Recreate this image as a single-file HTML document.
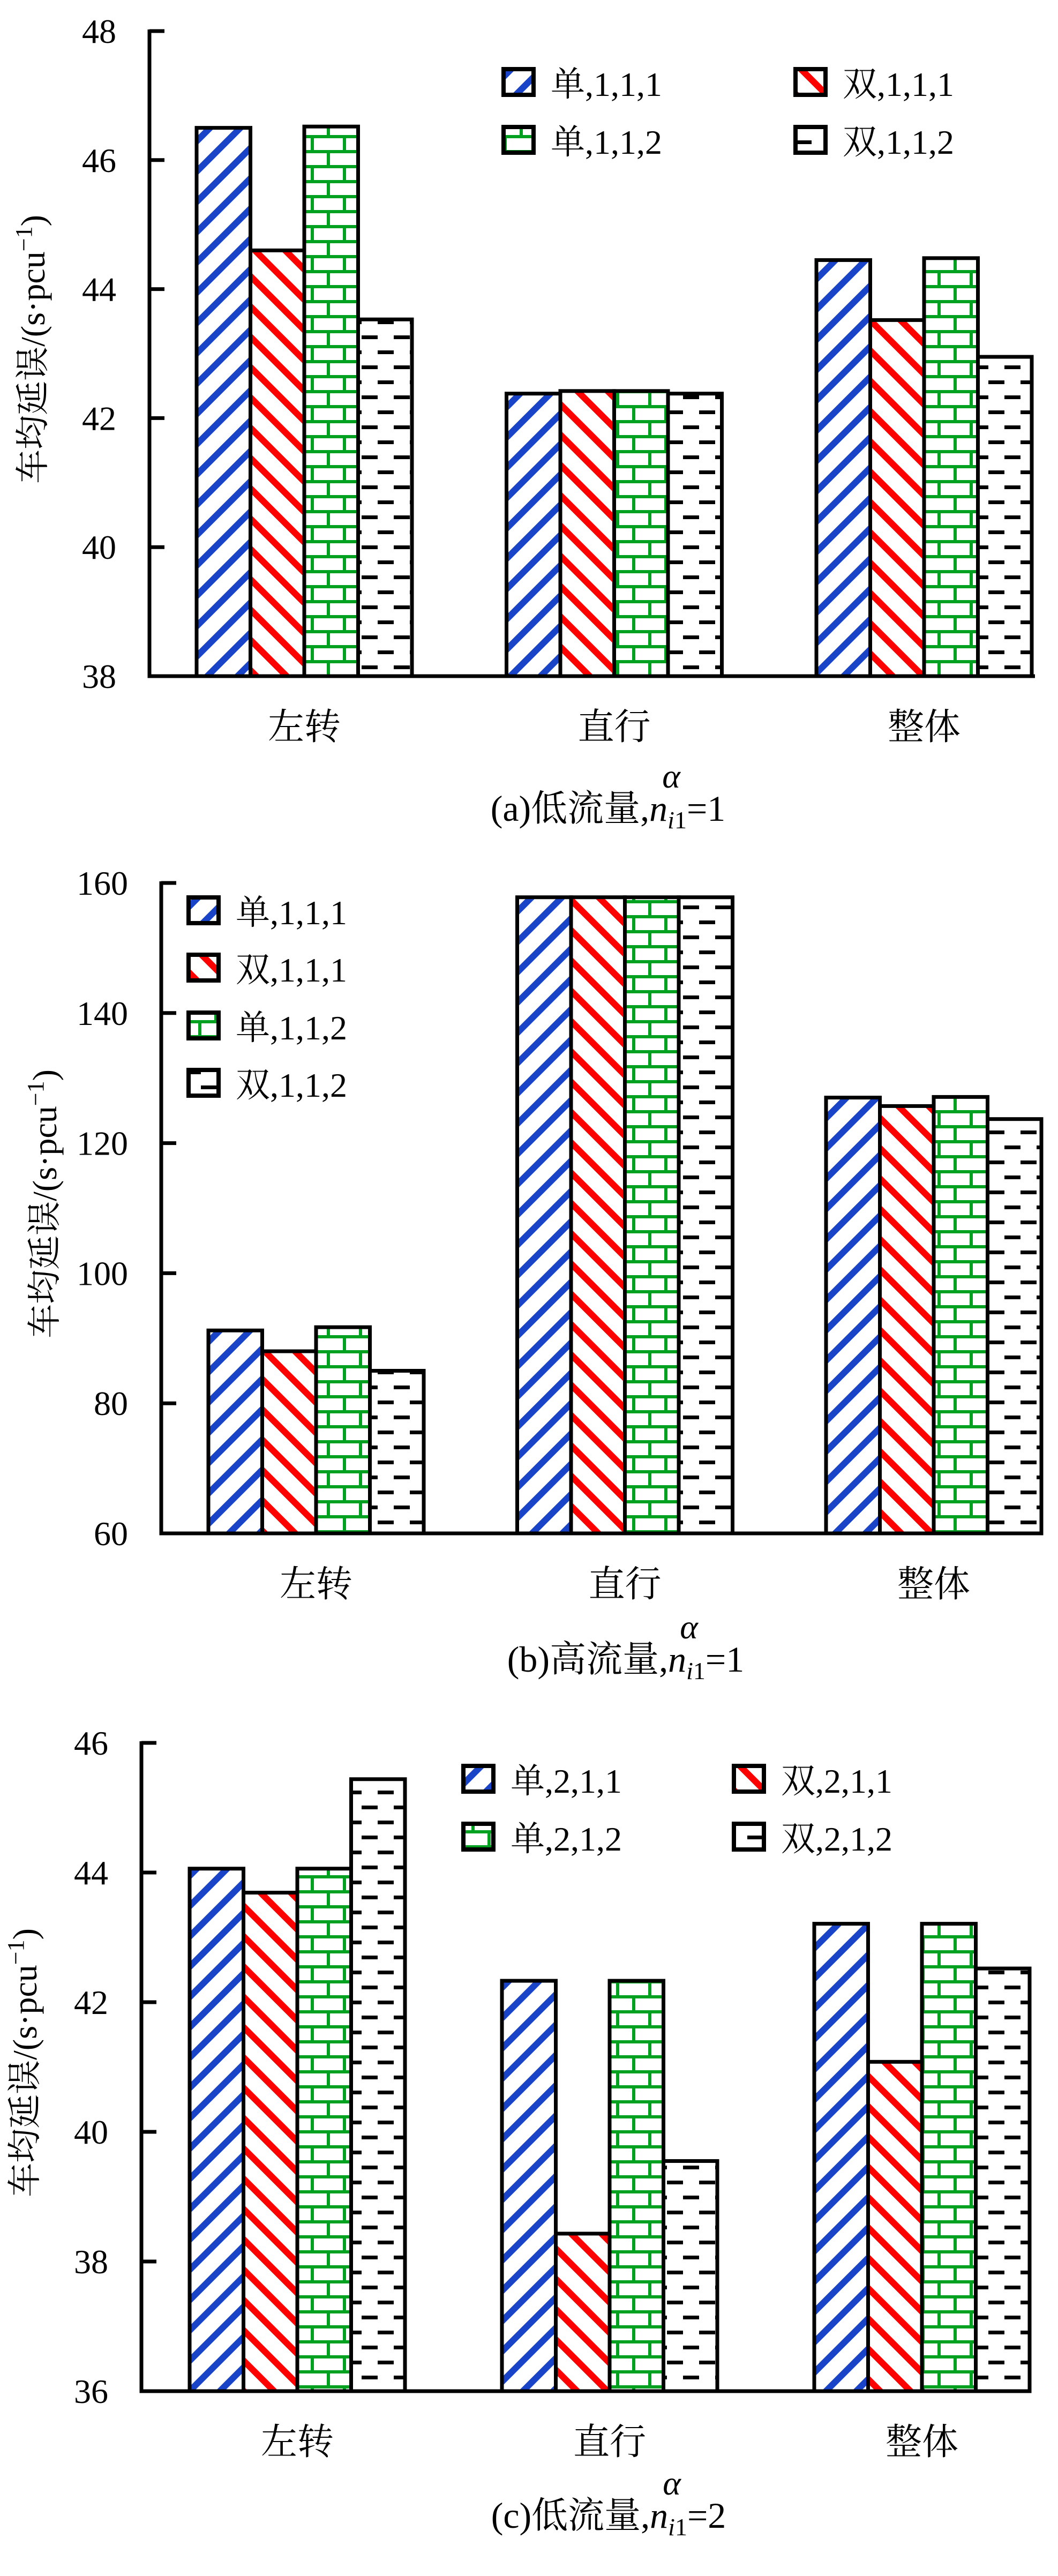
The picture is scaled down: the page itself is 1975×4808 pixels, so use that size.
<!DOCTYPE html>
<html><head><meta charset="utf-8">
<style>
html,body{margin:0;padding:0;background:#fff;}
svg{display:block;}
.tk{font-family:"Liberation Serif","Noto Serif CJK SC",serif;font-size:64px;fill:#000;}
.cj{font-family:"Liberation Serif","Noto Serif CJK SC",serif;font-size:68px;fill:#000;}
.yt{font-family:"Liberation Serif","Noto Serif CJK SC",serif;font-size:64px;fill:#000;}
.lg{font-family:"Liberation Serif","Noto Serif CJK SC",serif;font-size:64px;fill:#000;}
</style></head>
<body>
<svg id="root" width="1975" height="4808" viewBox="0 0 1975 4808" xmlns="http://www.w3.org/2000/svg">
<defs>
<pattern id="pBlue" patternUnits="userSpaceOnUse" width="40" height="40" patternTransform="rotate(45)">
<rect width="40" height="40" fill="#fff"/><rect x="0" y="0" width="12" height="40" fill="#1a44c8"/></pattern>
<pattern id="pRed" patternUnits="userSpaceOnUse" width="40" height="40" patternTransform="rotate(-45)">
<rect width="40" height="40" fill="#fff"/><rect x="0" y="0" width="12" height="40" fill="#ff0000"/></pattern>
<pattern id="pGreen" patternUnits="userSpaceOnUse" width="60" height="56">
<rect width="60" height="56" fill="#fff"/>
<rect x="0" y="0" width="60" height="6" fill="#00a020"/><rect x="0" y="28" width="60" height="6" fill="#00a020"/>
<rect x="10" y="0" width="6" height="28" fill="#00a020"/><rect x="40" y="28" width="6" height="28" fill="#00a020"/></pattern>
<pattern id="pBlack" patternUnits="userSpaceOnUse" width="60" height="56">
<rect width="60" height="56" fill="#fff"/>
<rect x="15" y="10" width="30" height="7" fill="#000"/><rect x="45" y="38" width="30" height="7" fill="#000"/><rect x="-15" y="38" width="30" height="7" fill="#000"/></pattern>
</defs>
</svg>
<script>
const NS="http://www.w3.org/2000/svg";
const root=document.getElementById('root');
const categories=["左转","直行","整体"];
const fills=["url(#pBlue)","url(#pRed)","url(#pGreen)","url(#pBlack)"];
const seriesNamesA=["单,1,1,1","双,1,1,1","单,1,1,2","双,1,1,2"];
const seriesNamesC=["单,2,1,1","双,2,1,1","单,2,1,2","双,2,1,2"];
const valuesA=[[46.5,42.38,44.45],[44.6,42.42,43.52],[46.52,42.42,44.48],[43.53,42.38,42.95]];
const valuesB=[[91.2,157.8,127.0],[88.0,157.8,125.7],[91.7,157.8,127.1],[85.0,157.8,123.7]];
const valuesC=[[44.06,42.33,43.21],[43.69,38.43,41.08],[44.06,42.33,43.21],[45.44,39.55,42.52]];
const ticksA=[38,40,42,44,46,48];
const ticksB=[60,80,100,120,140,160];
const ticksC=[36,38,40,42,44,46];

function el(tag,attrs,parent){const e=document.createElementNS(NS,tag);for(const k in attrs)e.setAttribute(k,attrs[k]);(parent||root).appendChild(e);return e;}

function panel(cfg){
  const g=el('g',{});
  
  
  const vmin=cfg.ticks[0],vmax=cfg.ticks[cfg.ticks.length-1];
  const y=v=>cfg.yBot-(v-vmin)/(vmax-vmin)*(cfg.yBot-cfg.yTop);
  cfg.values.forEach((ser,si)=>{
    ser.forEach((v,ci)=>{
      const x=cfg.g0+ci*cfg.step+si*cfg.bw;
      const r=el('rect',{x:x,y:y(v),width:cfg.bw,height:cfg.yBot-y(v),fill:fills[si],stroke:'#000','stroke-width':7},g);
      
      
    });
  });
  const ax=el('path',{d:`M${cfg.ax},${cfg.yTop-3} L${cfg.ax},${cfg.yBot} L${cfg.xEnd},${cfg.yBot}`,fill:'none',stroke:'#000','stroke-width':7},g);
  
  
  cfg.ticks.forEach(t=>{
    el('line',{x1:cfg.ax,x2:cfg.ax+28,y1:y(t),y2:y(t),stroke:'#000','stroke-width':7},g);
    const tx=el('text',{x:cfg.ax-62,y:y(t)+22,'text-anchor':'end',class:'tk'},g);
    tx.textContent=t;
    
    
  });
  categories.forEach((c,ci)=>{
    const cx=cfg.g0+ci*cfg.step+2*cfg.bw;
    const t=el('text',{x:cx,y:cfg.yBot+118,'text-anchor':'middle',class:'cj'},g);
    t.textContent=c;
    
    
  });
  const yt=el('text',{x:0,y:0,'text-anchor':'middle',class:'yt',transform:`translate(${cfg.ax-196},${(cfg.yTop+cfg.yBot)/2-8}) rotate(-90)`},g);
  yt.innerHTML='车均延误/(s·pcu<tspan dy="-24" font-size="44">−1</tspan><tspan dy="24">)</tspan>';
  
  
  cfg.names.forEach((n,i)=>{
    const p=cfg.leg[i];
    const lg=el('g',{},g);
    
    
    el('rect',{x:p[0],y:p[1],width:56,height:48,fill:fills[i],stroke:'#000','stroke-width':8},lg);
    const t=el('text',{x:p[0]+88,y:p[1]+50,class:'lg'},lg);
    t.textContent=n;
  });
  const cap=el('text',{x:cfg.capX,y:cfg.capY,'text-anchor':'middle',class:'cj'},g);
  cap.innerHTML=cfg.capPre+',<tspan font-style="italic">n</tspan><tspan font-style="italic" font-size="46" dy="14">i</tspan><tspan font-size="46">1</tspan><tspan dy="-14">='+cfg.capN+'</tspan>';
  
  
  const al=el('text',{x:cfg.capX+118,y:cfg.capY-62,'text-anchor':'middle',class:'lg','font-style':'italic','font-size':'44'},g);
  al.textContent='α';
  
  
}

panel({tag:'a',name:'panel-a-chart',values:valuesA,ticks:ticksA,names:seriesNamesA,yTop:58,yBot:1262,ax:279,xEnd:1932,g0:367,step:578.5,bw:100.5,
  leg:[[940,129],[1485,129],[940,237],[1485,237]],capX:1135,capY:1532,capPre:'(a)低流量',capN:'1'});
panel({tag:'b',name:'panel-b-chart',values:valuesB,ticks:ticksB,names:seriesNamesA,yTop:1648,yBot:2862,ax:301,xEnd:1945,g0:389,step:576.5,bw:100.5,
  leg:[[352,1675],[352,1782],[352,1890],[352,1997]],capX:1168,capY:3120,capPre:'(b)高流量',capN:'1'});
panel({tag:'c',name:'panel-c-chart',values:valuesC,ticks:ticksC,names:seriesNamesC,yTop:3253,yBot:4463,ax:264,xEnd:1920,g0:354,step:583,bw:100.5,
  leg:[[865,3296],[1370,3296],[865,3404],[1370,3404]],capX:1136,capY:4718,capPre:'(c)低流量',capN:'2'});
</script>
</body></html>
